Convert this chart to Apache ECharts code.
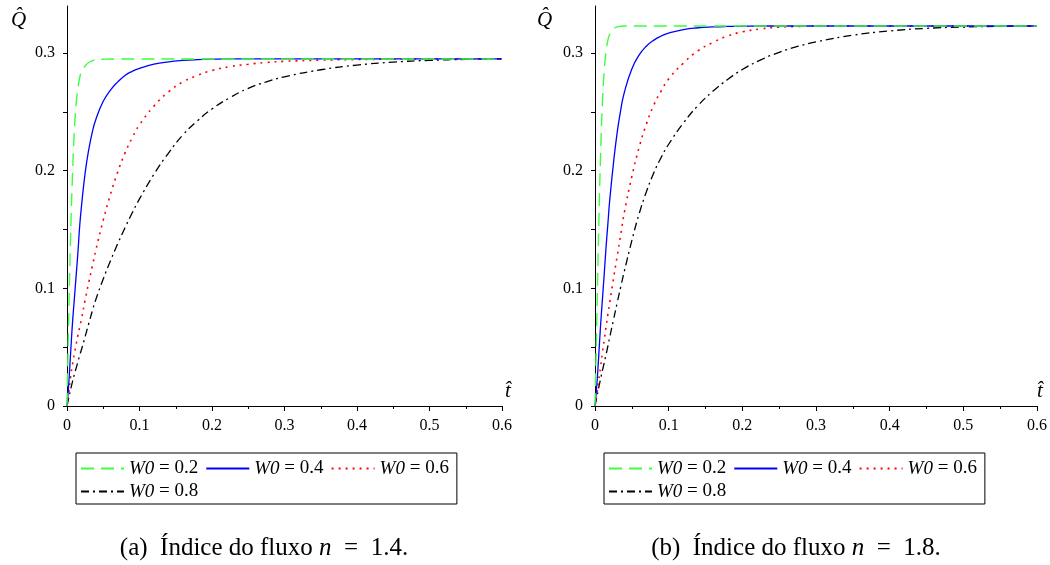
<!DOCTYPE html>
<html><head><meta charset="utf-8">
<script src="https://cdn.jsdelivr.net/npm/echarts@6/dist/echarts.min.js"></script>
<style>html,body{margin:0;padding:0;background:#fff}#c{width:1050px;height:565px}</style>
</head><body><div id="c"></div>
<script>
// time grid (t-hat)
const T = [0, 0.0025, 0.005, 0.0075, 0.01, 0.0125, 0.015, 0.0175, 0.02, 0.025, 0.03, 0.035, 0.04, 0.05, 0.06, 0.07, 0.08, 0.09, 0.1, 0.12, 0.14, 0.16, 0.18, 0.2, 0.225, 0.25, 0.275, 0.3, 0.35, 0.4, 0.45, 0.5, 0.55, 0.6];
const w0Labels = ['0.2', '0.4', '0.6', '0.8'];

// (a) n = 1.4
const leftW02 = [0, 0.08, 0.145, 0.195, 0.232, 0.256, 0.27, 0.279, 0.284, 0.289, 0.292, 0.2935, 0.2943, 0.2948, 0.295, 0.295, 0.295, 0.295, 0.295, 0.295, 0.295, 0.295, 0.295, 0.295, 0.295, 0.295, 0.295, 0.295, 0.295, 0.295, 0.295, 0.295, 0.295, 0.295];
const leftW04 = [0, 0.02, 0.045, 0.07, 0.09, 0.11, 0.13, 0.153, 0.17, 0.198, 0.218, 0.233, 0.244, 0.259, 0.2685, 0.2755, 0.281, 0.2845, 0.287, 0.2905, 0.2925, 0.2937, 0.2944, 0.2948, 0.295, 0.295, 0.295, 0.295, 0.295, 0.295, 0.295, 0.295, 0.295, 0.295];
const leftW06 = [0, 0.012, 0.025, 0.035, 0.044, 0.052, 0.06, 0.067, 0.074, 0.09, 0.105, 0.119, 0.133, 0.158, 0.18, 0.199, 0.215, 0.228, 0.239, 0.255, 0.267, 0.2755, 0.281, 0.2852, 0.2885, 0.2905, 0.292, 0.293, 0.294, 0.2945, 0.2948, 0.295, 0.295, 0.295];
const leftW08 = [0, 0.007, 0.014, 0.0205, 0.0265, 0.032, 0.0375, 0.043, 0.048, 0.059, 0.07, 0.081, 0.091, 0.108, 0.1235, 0.138, 0.1515, 0.1642, 0.176, 0.197, 0.215, 0.2305, 0.2425, 0.2525, 0.2622, 0.27, 0.2755, 0.2798, 0.2858, 0.2898, 0.2923, 0.2938, 0.2946, 0.295];

// (b) n = 1.8
const rightW02 = [0, 0.075, 0.15, 0.212, 0.257, 0.285, 0.301, 0.311, 0.316, 0.3205, 0.3222, 0.3228, 0.323, 0.323, 0.323, 0.323, 0.323, 0.323, 0.323, 0.323, 0.323, 0.323, 0.323, 0.323, 0.323, 0.323, 0.323, 0.323, 0.323, 0.323, 0.323, 0.323, 0.323, 0.323];
const rightW04 = [0, 0.018, 0.042, 0.068, 0.09, 0.112, 0.135, 0.155, 0.175, 0.206, 0.232, 0.252, 0.267, 0.2865, 0.2985, 0.306, 0.311, 0.3145, 0.317, 0.32, 0.3215, 0.3222, 0.3226, 0.3228, 0.323, 0.323, 0.323, 0.323, 0.323, 0.323, 0.323, 0.323, 0.323, 0.323];
const rightW06 = [0, 0.01, 0.022, 0.033, 0.045, 0.056, 0.067, 0.078, 0.088, 0.108, 0.127, 0.146, 0.165, 0.195, 0.22, 0.24, 0.256, 0.268, 0.278, 0.2915, 0.302, 0.309, 0.3145, 0.318, 0.3205, 0.322, 0.3226, 0.3229, 0.323, 0.323, 0.323, 0.323, 0.323, 0.323];
const rightW08 = [0, 0.0078, 0.0155, 0.0228, 0.03, 0.0367, 0.0437, 0.051, 0.0585, 0.073, 0.0875, 0.1015, 0.115, 0.1405, 0.1635, 0.1825, 0.1985, 0.2115, 0.2225, 0.2405, 0.2555, 0.2675, 0.2775, 0.286, 0.2942, 0.3006, 0.3056, 0.3095, 0.3152, 0.3188, 0.321, 0.3221, 0.3227, 0.3229];

const yLabelTicks = [0, 0.1, 0.2, 0.3];
const yMinorTicks = [0, 0.05, 0.1, 0.15, 0.2, 0.25, 0.3];
const captions = ['(a)\u2002Índice do fluxo {i|n}\u2002=\u20021.4.', '(b)\u2002Índice do fluxo {i|n}\u2002=\u20021.8.'];

const SERIF = '"Liberation Serif", "DejaVu Serif", serif';
const styles = [
  { color: '#3dff3d', type: [13, 7], width: 1.4 },
  { color: '#0000ff', type: 'solid', width: 1.3 },
  { color: '#ff0000', type: [2, 5], width: 1.6 },
  { color: '#000000', type: [8, 4, 2, 4], width: 1.3 }
];
const leftData = [leftW02, leftW04, leftW06, leftW08];
const rightData = [rightW02, rightW04, rightW06, rightW08];
const names = w0Labels.map(v => 'W0 = ' + v);

function xAxis(gi) {
  return {
    type: 'value', gridIndex: gi, min: 0, max: 0.6, interval: 0.1,
    axisLine: { lineStyle: { color: '#000', width: 1 } },
    axisTick: { length: 5, lineStyle: { color: '#000' } },
    minorTick: { show: true, splitNumber: 2, length: 3, lineStyle: { color: '#000' } },
    splitLine: { show: false },
    axisLabel: { color: '#000', fontFamily: SERIF, fontSize: 16, margin: 12,
      formatter: v => (v === 0 ? '0' : String(+v.toFixed(1))) }
  };
}
function yAxis(gi) {
  return {
    type: 'value', gridIndex: gi, min: 0, max: 0.34, interval: 0.1,
    axisLine: { show: true, lineStyle: { color: '#000', width: 1 } },
    axisTick: { show: true, length: 4, customValues: yMinorTicks, lineStyle: { color: '#000' } },
    splitLine: { show: false },
    axisLabel: { color: '#000', fontFamily: SERIF, fontSize: 16, margin: 12,
      customValues: yLabelTicks,
      formatter: v => (v === 0 ? '0' : String(+v.toFixed(2))) }
  };
}
const series = [];
[leftData, rightData].forEach((set, gi) => {
  set.forEach((arr, k) => {
    series.push({
      type: 'line', name: names[k], xAxisIndex: gi, yAxisIndex: gi,
      data: T.map((t, i) => [t, arr[i]]),
      showSymbol: false, symbol: 'none', smooth: 0.5,
      lineStyle: { color: styles[k].color, type: styles[k].type, width: styles[k].width },
      itemStyle: { color: styles[k].color },
      z: 10 - k,
      animation: false
    });
  });
});
function legend(left) {
  return {
    left: left, top: 453, width: 380, orient: 'horizontal',
    data: names, itemWidth: 43, itemHeight: 14, itemGap: 4,
    padding: [6, 5, 3, 4],
    borderColor: '#000', borderWidth: 1, borderRadius: 0,
    selectedMode: false,
    itemStyle: { opacity: 0, borderWidth: 0 },
    formatter: n => '{i|W0} = ' + n.split('= ')[1],
    textStyle: { color: '#000', fontFamily: SERIF, fontSize: 19, lineHeight: 18, padding: [0, 3, 0, 0],
      rich: { i: { fontStyle: 'italic', fontFamily: SERIF, fontSize: 19, lineHeight: 18 } } }
  };
}
const chart = echarts.init(document.getElementById('c'), null, { renderer: 'canvas' });
chart.setOption({
  backgroundColor: '#fff',
  animation: false,
  grid: [
    { left: 67, top: 6, width: 435, height: 400 },
    { left: 595, top: 6, width: 443, height: 400 }
  ],
  xAxis: [xAxis(0), xAxis(1)],
  yAxis: [yAxis(0), yAxis(1)],
  legend: [legend(76), legend(604)],
  series: series,
  graphic: [
    { type: 'text', left: 11, top: 10, style: { text: 'Q\u0302', font: 'italic 21px ' + SERIF, fill: '#000' } },
    { type: 'text', left: 537, top: 10, style: { text: 'Q\u0302', font: 'italic 21px ' + SERIF, fill: '#000' } },
    { type: 'text', left: 505, top: 381, style: { text: 't\u0302', font: 'italic 21px ' + SERIF, fill: '#000' } },
    { type: 'text', left: 1037, top: 381, style: { text: 't\u0302', font: 'italic 21px ' + SERIF, fill: '#000' } },
    { type: 'text', x: 264, y: 548, style: { text: captions[0], align: 'center', verticalAlign: 'middle',
      font: '25px ' + SERIF, fill: '#000', rich: { i: { fontStyle: 'italic', fontSize: 25, fontFamily: SERIF } } } },
    { type: 'text', x: 796, y: 548, style: { text: captions[1], align: 'center', verticalAlign: 'middle',
      font: '25px ' + SERIF, fill: '#000', rich: { i: { fontStyle: 'italic', fontSize: 25, fontFamily: SERIF } } } }
  ]
});
</script>
</body></html>
